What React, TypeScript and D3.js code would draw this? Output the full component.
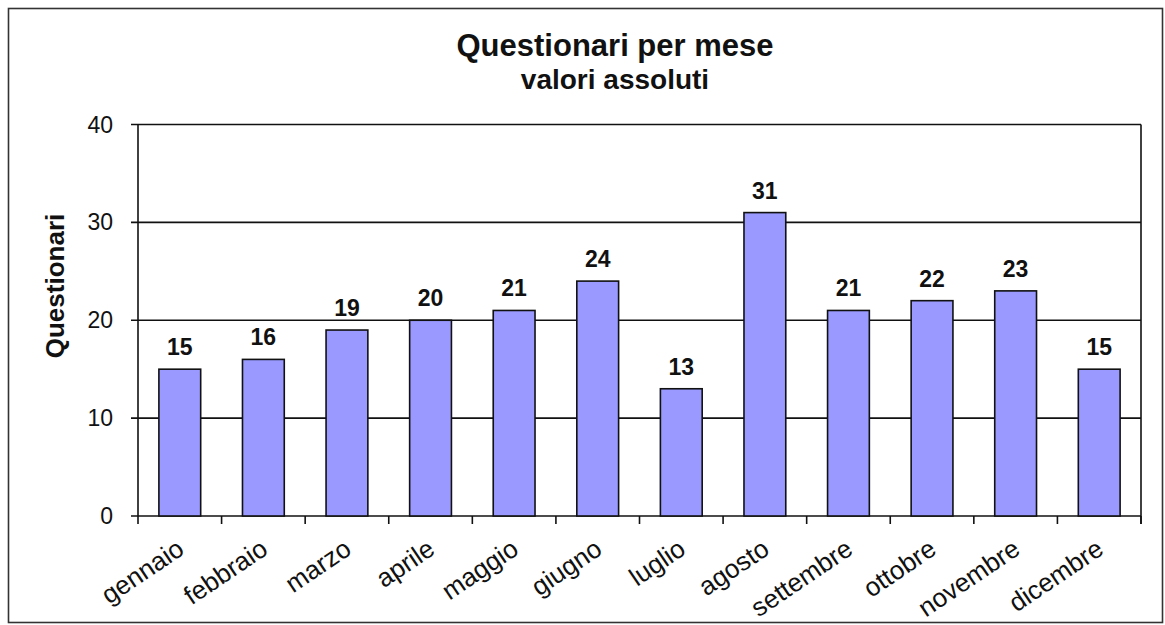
import React from "react";
import * as d3 from "d3";

const months = ["gennaio","febbraio","marzo","aprile","maggio","giugno","luglio","agosto","settembre","ottobre","novembre","dicembre"];
const values = [15,16,19,20,21,24,13,31,21,22,23,15];
const yTicks = [0,10,20,30,40];
const title = "Questionari per mese";
const subtitle = "valori assoluti";
const yLabel = "Questionari";

export default function App() {
  const W = 1165, H = 625;
  const left = 138, right = 1141, top = 124.5, bottom = 516;
  const x = d3.scaleBand<string>().domain(months).range([left, right]).paddingInner(0.5).paddingOuter(0.25);
  const xb = d3.scaleBand<string>().domain(months).range([left, right]);
  const y = d3.scaleLinear().domain([0, 40]).range([bottom, top]);
  const font = "'Liberation Sans', Arial, sans-serif";
  const edges = d3.range(months.length + 1).map(i => left + i * xb.step());
  return (
    <svg width={W} height={H} style={{ position: "absolute", left: 0, top: 0, background: "#fff" }} fontFamily={font}>
      <rect x={8.5} y={8.5} width={1154} height={614} fill="#fff" stroke="#333" strokeWidth={1.6} />
      <text x={615} y={56} textAnchor="middle" fontSize={31} fontWeight="bold" fill="#111">{title}</text>
      <text x={615} y={89} textAnchor="middle" fontSize={28} fontWeight="bold" fill="#111">{subtitle}</text>
      {yTicks.map(t => (
        <g key={t}>
          <line x1={left - 7} x2={right} y1={y(t)} y2={y(t)} stroke="#111" strokeWidth={1.6} />
          <text x={113} y={y(t) + 8} textAnchor="end" fontSize={23} fill="#111">{t}</text>
        </g>
      ))}
      <line x1={left} x2={left} y1={top} y2={bottom} stroke="#111" strokeWidth={1.6} />
      <line x1={right} x2={right} y1={top} y2={bottom + 8} stroke="#111" strokeWidth={1.6} />
      {edges.map((e, i) => (
        <line key={i} x1={e} x2={e} y1={bottom} y2={bottom + 8} stroke="#111" strokeWidth={1.6} />
      ))}
      {months.map((m, i) => {
        const v = values[i];
        const bx = x(m)!;
        const cx = bx + x.bandwidth() / 2;
        return (
          <g key={m}>
            <rect x={bx} y={y(v)} width={x.bandwidth()} height={bottom - y(v)} fill="#9999FF" stroke="#111" strokeWidth={1.6} />
            <text x={cx} y={y(v) - 14} textAnchor="middle" fontSize={23} fontWeight="bold" fill="#111">{v}</text>
            <text transform={`translate(${cx + 6},${553}) rotate(-34)`} textAnchor="end" fontSize={26} fill="#111">{m}</text>
          </g>
        );
      })}
      <text transform={`translate(64,286) rotate(-90)`} textAnchor="middle" fontSize={26} fontWeight="bold" fill="#111">{yLabel}</text>
    </svg>
  );
}
